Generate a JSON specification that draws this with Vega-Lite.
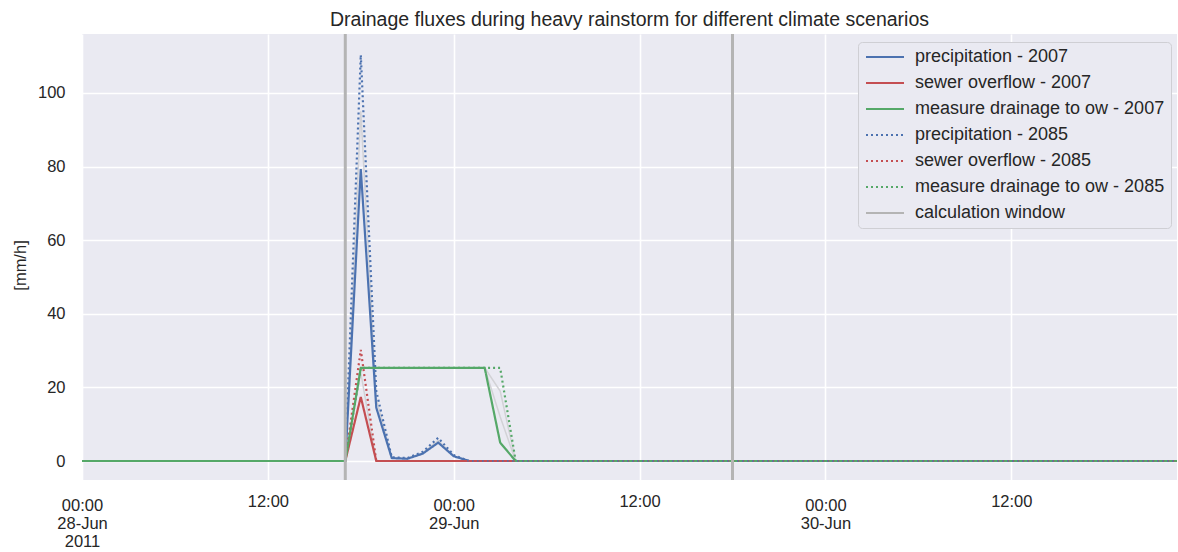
{
  "$schema": "https://vega.github.io/schema/vega-lite/v6.json",
  "width": 1095,
  "height": 446,
  "autosize": {"type": "none"},
  "padding": {"left": 82, "top": 34, "right": 1, "bottom": 72},
  "background": "white",
  "title": {
    "text": "Drainage fluxes during heavy rainstorm for different climate scenarios",
    "fontSize": 19.5,
    "font": "Liberation Sans",
    "fontWeight": "normal",
    "color": "#262626",
    "anchor": "middle",
    "frame": "group",
    "baseline": "alphabetic",
    "offset": 9,
    "dy": 22
  },
  "config": {
    "font": "Liberation Sans",
    "view": {"fill": "#eaeaf2", "stroke": null},
    "axis": {
      "grid": true,
      "gridColor": "#ffffff",
      "gridWidth": 1.6,
      "domain": false,
      "ticks": false,
      "tickSize": 0,
      "labelFont": "Liberation Sans",
      "labelFontSize": 16.5,
      "labelColor": "#262626",
      "titleFont": "Liberation Sans",
      "titleFontSize": 16.5,
      "titleFontWeight": "normal",
      "titleColor": "#262626"
    }
  },
  "datasets": {
    "main": [
      {"time": "2011-06-28T00:00:00Z", "value": 0, "series": "precipitation - 2007"},
      {"time": "2011-06-28T17:00:00Z", "value": 0, "series": "precipitation - 2007"},
      {"time": "2011-06-28T18:00:00Z", "value": 79.3, "series": "precipitation - 2007"},
      {"time": "2011-06-28T19:00:00Z", "value": 14.5, "series": "precipitation - 2007"},
      {"time": "2011-06-28T20:00:00Z", "value": 0.8, "series": "precipitation - 2007"},
      {"time": "2011-06-28T21:00:00Z", "value": 0.6, "series": "precipitation - 2007"},
      {"time": "2011-06-28T22:00:00Z", "value": 2, "series": "precipitation - 2007"},
      {"time": "2011-06-28T23:00:00Z", "value": 5, "series": "precipitation - 2007"},
      {"time": "2011-06-29T00:00:00Z", "value": 1.3, "series": "precipitation - 2007"},
      {"time": "2011-06-29T01:00:00Z", "value": 0, "series": "precipitation - 2007"},
      {"time": "2011-06-30T23:00:00Z", "value": 0, "series": "precipitation - 2007"},

      {"time": "2011-06-28T00:00:00Z", "value": 0, "series": "sewer overflow - 2007"},
      {"time": "2011-06-28T17:00:00Z", "value": 0, "series": "sewer overflow - 2007"},
      {"time": "2011-06-28T18:00:00Z", "value": 17.4, "series": "sewer overflow - 2007"},
      {"time": "2011-06-28T19:00:00Z", "value": 0, "series": "sewer overflow - 2007"},
      {"time": "2011-06-30T23:00:00Z", "value": 0, "series": "sewer overflow - 2007"},

      {"time": "2011-06-28T00:00:00Z", "value": 0, "series": "measure drainage to ow - 2007"},
      {"time": "2011-06-28T17:00:00Z", "value": 0, "series": "measure drainage to ow - 2007"},
      {"time": "2011-06-28T18:00:00Z", "value": 25.3, "series": "measure drainage to ow - 2007"},
      {"time": "2011-06-29T02:00:00Z", "value": 25.3, "series": "measure drainage to ow - 2007"},
      {"time": "2011-06-29T03:00:00Z", "value": 5, "series": "measure drainage to ow - 2007"},
      {"time": "2011-06-29T04:00:00Z", "value": 0, "series": "measure drainage to ow - 2007"},
      {"time": "2011-06-30T23:00:00Z", "value": 0, "series": "measure drainage to ow - 2007"},

      {"time": "2011-06-28T00:00:00Z", "value": 0, "series": "precipitation - 2085"},
      {"time": "2011-06-28T17:00:00Z", "value": 0, "series": "precipitation - 2085"},
      {"time": "2011-06-28T18:00:00Z", "value": 110.3, "series": "precipitation - 2085"},
      {"time": "2011-06-28T19:00:00Z", "value": 19, "series": "precipitation - 2085"},
      {"time": "2011-06-28T20:00:00Z", "value": 1, "series": "precipitation - 2085"},
      {"time": "2011-06-28T21:00:00Z", "value": 0.8, "series": "precipitation - 2085"},
      {"time": "2011-06-28T22:00:00Z", "value": 2.5, "series": "precipitation - 2085"},
      {"time": "2011-06-28T23:00:00Z", "value": 6.3, "series": "precipitation - 2085"},
      {"time": "2011-06-29T00:00:00Z", "value": 1.6, "series": "precipitation - 2085"},
      {"time": "2011-06-29T01:00:00Z", "value": 0, "series": "precipitation - 2085"},
      {"time": "2011-06-30T23:00:00Z", "value": 0, "series": "precipitation - 2085"},

      {"time": "2011-06-28T00:00:00Z", "value": 0, "series": "sewer overflow - 2085"},
      {"time": "2011-06-28T17:00:00Z", "value": 0, "series": "sewer overflow - 2085"},
      {"time": "2011-06-28T18:00:00Z", "value": 30.2, "series": "sewer overflow - 2085"},
      {"time": "2011-06-28T19:00:00Z", "value": 0, "series": "sewer overflow - 2085"},
      {"time": "2011-06-30T23:00:00Z", "value": 0, "series": "sewer overflow - 2085"},

      {"time": "2011-06-28T00:00:00Z", "value": 0, "series": "measure drainage to ow - 2085"},
      {"time": "2011-06-28T17:00:00Z", "value": 0, "series": "measure drainage to ow - 2085"},
      {"time": "2011-06-28T18:00:00Z", "value": 25.3, "series": "measure drainage to ow - 2085"},
      {"time": "2011-06-29T03:00:00Z", "value": 25.3, "series": "measure drainage to ow - 2085"},
      {"time": "2011-06-29T04:00:00Z", "value": 0, "series": "measure drainage to ow - 2085"},
      {"time": "2011-06-30T23:00:00Z", "value": 0, "series": "measure drainage to ow - 2085"}
    ],
    "gray": [
      {"time": "2011-06-28T00:00:00Z", "value": 0, "series": "g1p"},
      {"time": "2011-06-28T17:00:00Z", "value": 0, "series": "g1p"},
      {"time": "2011-06-28T18:00:00Z", "value": 95, "series": "g1p"},
      {"time": "2011-06-28T19:00:00Z", "value": 17, "series": "g1p"},
      {"time": "2011-06-28T20:00:00Z", "value": 0.9, "series": "g1p"},
      {"time": "2011-06-28T21:00:00Z", "value": 0.7, "series": "g1p"},
      {"time": "2011-06-28T22:00:00Z", "value": 2.2, "series": "g1p"},
      {"time": "2011-06-28T23:00:00Z", "value": 5.6, "series": "g1p"},
      {"time": "2011-06-29T00:00:00Z", "value": 1.4, "series": "g1p"},
      {"time": "2011-06-29T01:00:00Z", "value": 0, "series": "g1p"},
      {"time": "2011-06-30T23:00:00Z", "value": 0, "series": "g1p"},
      {"time": "2011-06-28T17:00:00Z", "value": 0, "series": "g1s"},
      {"time": "2011-06-28T18:00:00Z", "value": 24, "series": "g1s"},
      {"time": "2011-06-28T19:00:00Z", "value": 0, "series": "g1s"},
      {"time": "2011-06-28T17:00:00Z", "value": 0, "series": "g1d"},
      {"time": "2011-06-28T18:00:00Z", "value": 25.3, "series": "g1d"},
      {"time": "2011-06-29T02:00:00Z", "value": 25.3, "series": "g1d"},
      {"time": "2011-06-29T03:00:00Z", "value": 19, "series": "g1d"},
      {"time": "2011-06-29T04:00:00Z", "value": 0, "series": "g1d"},
      {"time": "2011-06-29T02:00:00Z", "value": 25.3, "series": "g2d"},
      {"time": "2011-06-29T03:00:00Z", "value": 12, "series": "g2d"},
      {"time": "2011-06-29T04:00:00Z", "value": 0, "series": "g2d"}
    ],
    "win": [
      {"time": "2011-06-28T17:00:00Z", "series": "calculation window"},
      {"time": "2011-06-29T18:00:00Z", "series": "calculation window"}
    ]
  },
  "layer": [
    {
      "data": {"name": "gray"},
      "mark": {"type": "line", "strokeWidth": 1.5, "color": "#d2d2d6", "clip": true},
      "encoding": {
        "x": {
          "field": "time", "type": "temporal",
          "scale": {"type": "utc", "domain": [{"year": 2011, "month": 6, "date": 28, "hours": 0, "utc": true}, {"year": 2011, "month": 6, "date": 30, "hours": 22, "minutes": 42, "utc": true}]},
          "axis": {
            "title": null,
            "values": [
              {"year": 2011, "month": 6, "date": 28, "hours": 0, "utc": true},
              {"year": 2011, "month": 6, "date": 28, "hours": 12, "utc": true},
              {"year": 2011, "month": 6, "date": 29, "hours": 0, "utc": true},
              {"year": 2011, "month": 6, "date": 29, "hours": 12, "utc": true},
              {"year": 2011, "month": 6, "date": 30, "hours": 0, "utc": true},
              {"year": 2011, "month": 6, "date": 30, "hours": 12, "utc": true}
            ],
            "labelExpr": "utchours(datum.value) == 0 ? (utcdate(datum.value) == 28 ? ['00:00', utcFormat(datum.value, '%d-%b'), '2011'] : ['00:00', utcFormat(datum.value, '%d-%b')]) : '12:00'",
            "labelLineHeight": 18,
            "labelBaseline": "top",
            "labelPadding": {"condition": {"test": "utchours(datum.value) == 0", "value": 17}, "value": 13},
            "labelFlush": false,
            "labelOverlap": false
          }
        },
        "y": {
          "field": "value", "type": "quantitative",
          "scale": {"domain": [-5.16, 116], "nice": false, "zero": false},
          "axis": {
            "title": "[mm/h]",
            "values": [0, 20, 40, 60, 80, 100],
            "labelPadding": 17,
            "titleX": -62,
            "titleY": 231,
            "titleAlign": "center",
            "titleBaseline": "middle"
          }
        },
        "detail": {"field": "series"}
      }
    },
    {
      "data": {"name": "main"},
      "mark": {"type": "line", "strokeWidth": 2.2, "clip": true},
      "encoding": {
        "x": {"field": "time", "type": "temporal"},
        "y": {"field": "value", "type": "quantitative"},
        "color": {
          "field": "series", "type": "nominal",
          "scale": {
            "domain": ["precipitation - 2007", "sewer overflow - 2007", "measure drainage to ow - 2007", "precipitation - 2085", "sewer overflow - 2085", "measure drainage to ow - 2085", "calculation window"],
            "range": ["#4c72b0", "#c44e52", "#55a868", "#4c72b0", "#c44e52", "#55a868", "#b4b4b4"]
          },
          "legend": {
            "title": null,
            "orient": "none",
            "legendX": 776,
            "legendY": 8,
            "direction": "vertical",
            "fillColor": "#eaeaf2",
            "strokeColor": "#cfcfd4",
            "cornerRadius": 4,
            "padding": 6,
            "rowPadding": 8,
            "symbolType": "M-1,0H6.6",
            "symbolSize": 100,
            "symbolStrokeWidth": 2.2,
            "symbolOffset": -2,
            "labelOffset": 35,
            "labelFontSize": 18,
            "labelFont": "Liberation Sans",
            "labelColor": "#262626",
            "labelLimit": 400
          }
        },
        "strokeDash": {
          "field": "series", "type": "nominal",
          "scale": {
            "domain": ["precipitation - 2007", "sewer overflow - 2007", "measure drainage to ow - 2007", "precipitation - 2085", "sewer overflow - 2085", "measure drainage to ow - 2085", "calculation window"],
            "range": [[1, 0], [1, 0], [1, 0], [2, 3], [2, 3], [2, 3], [1, 0]]
          },
          "legend": {
            "title": null,
            "orient": "none",
            "legendX": 776,
            "legendY": 8,
            "direction": "vertical",
            "fillColor": "#eaeaf2",
            "strokeColor": "#cfcfd4",
            "cornerRadius": 4,
            "padding": 6,
            "rowPadding": 8,
            "symbolType": "M-1,0H6.6",
            "symbolSize": 100,
            "symbolStrokeWidth": 2.2,
            "symbolOffset": -2,
            "labelOffset": 35,
            "labelFontSize": 18,
            "labelFont": "Liberation Sans",
            "labelColor": "#262626",
            "labelLimit": 400
          }
        }
      }
    },
    {
      "data": {"name": "win"},
      "mark": {"type": "rule", "strokeWidth": 3},
      "encoding": {
        "x": {"field": "time", "type": "temporal"},
        "color": {"field": "series", "type": "nominal"},
        "strokeDash": {"field": "series", "type": "nominal"}
      }
    }
  ]
}
